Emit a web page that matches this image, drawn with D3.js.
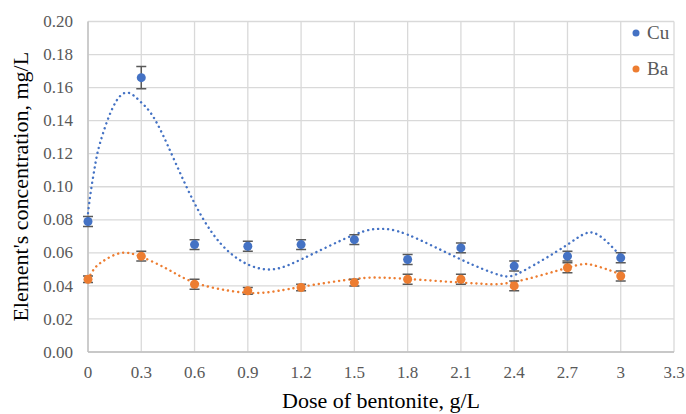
<!DOCTYPE html>
<html>
<head>
<meta charset="utf-8">
<script src="https://cdn.jsdelivr.net/npm/d3@7"></script>
<style>
  body { margin: 0; background: #fff; }
  svg text { font-family: 'Liberation Serif', 'DejaVu Serif', serif; }
</style>
</head>
<body>
<svg id="chart" width="686" height="414"></svg>
<script>
// measured doses and concentrations
var doses = [0, 0.3, 0.6, 0.9, 1.2, 1.5, 1.8, 2.1, 2.4, 2.7, 3.0];
var cuValues = [0.079, 0.166, 0.065, 0.064, 0.065, 0.068, 0.056, 0.063, 0.052, 0.058, 0.057];
var cuErrors = [0.003, 0.0067, 0.003, 0.003, 0.003, 0.003, 0.003, 0.003, 0.003, 0.003, 0.003];
var baValues = [0.044, 0.058, 0.041, 0.037, 0.039, 0.042, 0.044, 0.044, 0.040, 0.051, 0.046];
var baErrors = [0.002, 0.003, 0.003, 0.002, 0.002, 0.002, 0.003, 0.003, 0.003, 0.003, 0.003];

// trend lines
var cuTrend = [[0, 0.084], [0.017, 0.098], [0.04, 0.113], [0.068, 0.1265], [0.14, 0.148], [0.22, 0.157],
  [0.3, 0.151], [0.405, 0.135], [0.6, 0.090], [0.8, 0.060], [1.0, 0.050], [1.2, 0.056], [1.5, 0.071],
  [1.65, 0.0745], [1.8, 0.071], [2.1, 0.056], [2.32, 0.0465], [2.45, 0.049], [2.7, 0.065], [2.85, 0.072], [3.0, 0.058]];
var baTrend = [[0, 0.044], [0.04, 0.051], [0.1, 0.056], [0.19, 0.060], [0.3, 0.0576], [0.45, 0.050],
  [0.6, 0.042], [0.8, 0.037], [0.98, 0.0358], [1.2, 0.0394], [1.5, 0.0442], [1.65, 0.045], [1.8, 0.0442],
  [2.1, 0.042], [2.23, 0.0412], [2.4, 0.0424], [2.7, 0.051], [2.84, 0.0527], [3.0, 0.047]];

var xTicks = [0, 0.3, 0.6, 0.9, 1.2, 1.5, 1.8, 2.1, 2.4, 2.7, 3.0, 3.3];
var xTickLabels = ["0", "0.3", "0.6", "0.9", "1.2", "1.5", "1.8", "2.1", "2.4", "2.7", "3", "3.3"];
var yTicks = [0, 0.02, 0.04, 0.06, 0.08, 0.10, 0.12, 0.14, 0.16, 0.18, 0.20];

var series = [
  { name: "Cu", color: "#4472C4", values: cuValues, errors: cuErrors, trend: cuTrend },
  { name: "Ba", color: "#ED7D31", values: baValues, errors: baErrors, trend: baTrend }
];

var margin = { top: 21.5, right: 12, bottom: 62, left: 88 };
var width = 686, height = 414;
var serif = "'Liberation Serif', 'DejaVu Serif', serif";

var svg = d3.select("#chart");

var x = d3.scaleLinear().domain([0, 3.3]).range([margin.left, width - margin.right]);
var y = d3.scaleLinear().domain([0, 0.2]).range([height - margin.bottom, margin.top]);

// grid
svg.append("g")
  .selectAll("line")
  .data(yTicks)
  .enter()
  .append("line")
  .attr("x1", x(0))
  .attr("x2", x(3.3))
  .attr("y1", function(d) { return y(d); })
  .attr("y2", function(d) { return y(d); })
  .attr("stroke", "#d9d9d9")
  .attr("stroke-width", 1.3);

svg.append("g")
  .selectAll("line")
  .data(xTicks)
  .enter()
  .append("line")
  .attr("x1", function(d) { return x(d); })
  .attr("x2", function(d) { return x(d); })
  .attr("y1", y(0))
  .attr("y2", y(0.2))
  .attr("stroke", "#d9d9d9")
  .attr("stroke-width", 1.3);

// axis lines
svg.append("line")
  .attr("x1", x(0)).attr("x2", x(3.3))
  .attr("y1", y(0)).attr("y2", y(0))
  .attr("stroke", "#bfbfbf").attr("stroke-width", 1.3);
svg.append("line")
  .attr("x1", x(0)).attr("x2", x(0))
  .attr("y1", y(0)).attr("y2", y(0.2))
  .attr("stroke", "#bfbfbf").attr("stroke-width", 1.3);

// tick labels
svg.append("g")
  .selectAll("text")
  .data(yTicks)
  .enter()
  .append("text")
  .attr("x", 73)
  .attr("y", function(d) { return y(d); })
  .attr("dy", "0.33em")
  .attr("text-anchor", "end")
  .attr("font-family", serif)
  .attr("font-size", 17)
  .attr("fill", "#595959")
  .text(function(d) { return d3.format(".2f")(d); });

svg.append("g")
  .selectAll("text")
  .data(xTicks)
  .enter()
  .append("text")
  .attr("x", function(d) { return x(d); })
  .attr("y", 378)
  .attr("text-anchor", "middle")
  .attr("font-family", serif)
  .attr("font-size", 17)
  .attr("fill", "#595959")
  .text(function(d, i) { return xTickLabels[i]; });

// axis titles
svg.append("text")
  .attr("x", (x(0) + x(3.3)) / 2)
  .attr("y", 408)
  .attr("text-anchor", "middle")
  .attr("font-family", serif)
  .attr("font-size", 22)
  .attr("fill", "#000")
  .text("Dose of bentonite, g/L");

svg.append("text")
  .attr("transform", "translate(28," + y(0.1) + ") rotate(-90)")
  .attr("text-anchor", "middle")
  .attr("font-family", serif)
  .attr("font-size", 22)
  .attr("fill", "#000")
  .text("Element's concentration, mg/L");

var trendLine = d3.line()
  .curve(d3.curveNatural)
  .x(function(d) { return x(d[0]); })
  .y(function(d) { return y(d[1]); });

series.forEach(function(s) {
  svg.append("path")
    .attr("d", trendLine(s.trend))
    .attr("fill", "none")
    .attr("stroke", s.color)
    .attr("stroke-width", 2.4)
    .attr("stroke-linecap", "round")
    .attr("stroke-dasharray", "0.1 5");
});

series.forEach(function(s) {
  var g = svg.append("g");
  var pts = doses.map(function(d, i) { return { x: d, v: s.values[i], e: s.errors[i] }; });

  // error bars
  g.selectAll(".err")
    .data(pts)
    .enter()
    .append("path")
    .attr("class", "err")
    .attr("d", function(d) {
      var cx = x(d.x), t = y(d.v + d.e), b = y(d.v - d.e);
      return "M" + (cx - 5) + "," + t + "H" + (cx + 5) +
        "M" + cx + "," + t + "V" + b +
        "M" + (cx - 5) + "," + b + "H" + (cx + 5);
    })
    .attr("fill", "none")
    .attr("stroke", "#595959")
    .attr("stroke-width", 1.5);

  g.selectAll(".pt")
    .data(pts)
    .enter()
    .append("circle")
    .attr("class", "pt")
    .attr("cx", function(d) { return x(d.x); })
    .attr("cy", function(d) { return y(d.v); })
    .attr("r", 4.5)
    .attr("fill", s.color);
});

// legend
var legend = svg.append("g")
  .selectAll("g")
  .data(series)
  .enter()
  .append("g")
  .attr("transform", function(d, i) { return "translate(636," + (33 + i * 36) + ")"; });

legend.append("circle")
  .attr("r", 3.5)
  .attr("fill", function(d) { return d.color; });

legend.append("text")
  .attr("x", 11)
  .attr("dy", "0.33em")
  .attr("font-family", serif)
  .attr("font-size", 19)
  .attr("fill", "#595959")
  .text(function(d) { return d.name; });
</script>
</body>
</html>
